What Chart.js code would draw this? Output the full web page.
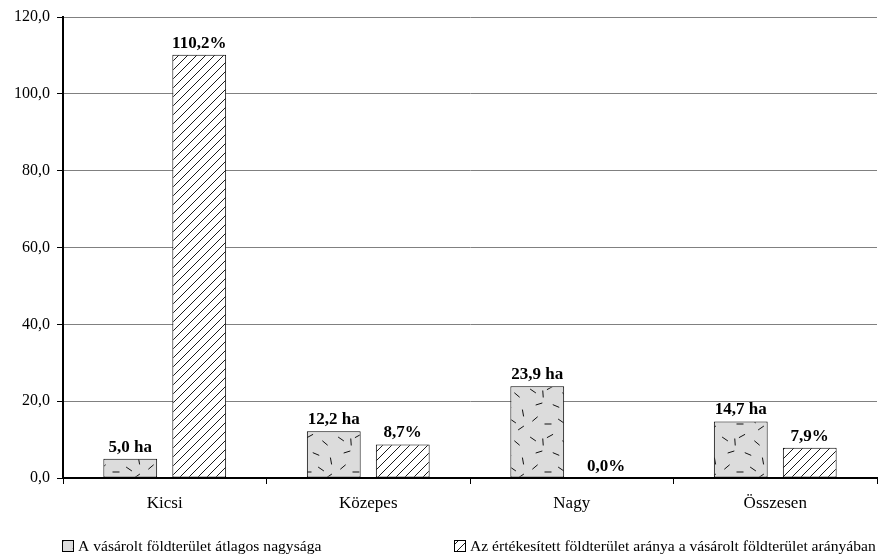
<!DOCTYPE html>
<html><head><meta charset="utf-8">
<script src="https://cdn.jsdelivr.net/npm/chart.js@4/dist/chart.umd.min.js"></script>
<style>html,body{margin:0;padding:0;background:#fff}#wrap{width:880px;height:558px}</style>
</head><body><div id="wrap"><canvas id="c" width="880" height="558"></canvas></div>
<script>
const categories = ['Kicsi', 'Közepes', 'Nagy', 'Összesen'];
const seriesNames = ['A vásárolt földterület átlagos nagysága', 'Az értékesített földterület aránya a vásárolt földterület arányában'];
const avgSize = [5.0, 12.2, 23.9, 14.7];
const soldShare = [110.2, 8.7, 0.0, 7.9];
const yTicks = [0, 20, 40, 60, 80, 100, 120];
const labelSuffix = [' ha', '%'];

const FONT = '"Liberation Serif", "Times New Roman", serif';

function hatchPattern() {
  const s = 9, c = document.createElement('canvas');
  c.width = s; c.height = s;
  const g = c.getContext('2d');
  g.fillStyle = '#fff'; g.fillRect(0, 0, s, s);
  g.strokeStyle = '#000'; g.lineWidth = 0.9;
  g.beginPath();
  g.moveTo(-1, s + 1); g.lineTo(s + 1, -1);
  g.moveTo(-1, 1); g.lineTo(1, -1);
  g.moveTo(s - 1, s + 1); g.lineTo(s + 1, s - 1);
  g.stroke();
  return g.createPattern(c, 'repeat');
}
function dashPattern() {
  const s = 48, c = document.createElement('canvas');
  c.width = s; c.height = s;
  const g = c.getContext('2d');
  g.fillStyle = '#dcdcdc'; g.fillRect(0, 0, s, s);
  g.strokeStyle = '#111'; g.lineWidth = 1;
  const dashes = [[5,7,0.6],[22,4,-0.5],[37,11,0.7],[11,20,-0.3],[28,22,0.4],[43,29,1.4],[7,35,-0.7],[20,40,0],[33,37,0.6],[15,10,1.5],[41,44,-0.6]];
  g.beginPath();
  for (const [x, y, a] of dashes) {
    const dx = Math.cos(a) * 3.5, dy = Math.sin(a) * 3.5;
    g.moveTo(x - dx, y - dy); g.lineTo(x + dx, y + dy);
  }
  g.stroke();
  return g.createPattern(c, 'repeat');
}

const fmt = v => v.toFixed(1).replace('.', ',');

const valueLabels = {
  id: 'valueLabels',
  afterDatasetsDraw(chart) {
    const ctx = chart.ctx;
    ctx.save();
    ctx.font = 'bold 17px ' + FONT;
    ctx.fillStyle = '#000';
    ctx.textAlign = 'center';
    ctx.textBaseline = 'bottom';
    chart.data.datasets.forEach((ds, di) => {
      chart.getDatasetMeta(di).data.forEach((el, i) => {
        ctx.fillText(fmt(ds.data[i]) + labelSuffix[di], el.x, el.y - 3);
      });
    });
    ctx.restore();
  }
};

const customLegend = {
  id: 'customLegend',
  afterDraw(chart) {
    const ctx = chart.ctx;
    const xs = [62, 454];
    const top = 540, box = 11;
    ctx.save();
    ctx.font = '15.6px ' + FONT;
    ctx.textBaseline = 'middle';
    ctx.textAlign = 'left';
    chart.data.datasets.forEach((ds, i) => {
      ctx.fillStyle = ds.backgroundColor;
      ctx.fillRect(xs[i], top, box, box);
      ctx.strokeStyle = '#000'; ctx.lineWidth = 1;
      ctx.strokeRect(xs[i] + 0.5, top + 0.5, box, box);
      ctx.fillStyle = '#000';
      ctx.fillText(ds.label, xs[i] + box + 5, top + box / 2 + 1);
    });
    ctx.restore();
  }
};

new Chart(document.getElementById('c'), {
  type: 'bar',
  data: {
    labels: categories,
    datasets: [
      { label: seriesNames[0], data: avgSize, backgroundColor: dashPattern(), borderColor: '#000', borderWidth: 1, borderSkipped: false },
      { label: seriesNames[1], data: soldShare, backgroundColor: hatchPattern(), borderColor: '#000', borderWidth: 1, borderSkipped: false }
    ]
  },
  options: {
    responsive: false,
    animation: false,
    categoryPercentage: 0.678,
    barPercentage: 0.78,
    layout: { padding: { top: 17, right: 3, bottom: 0, left: 0 } },
    plugins: { legend: { display: false }, tooltip: { enabled: false } },
    scales: {
      x: {
        offset: true,
        grid: { display: true, drawOnChartArea: false, drawTicks: true, tickLength: 6, color: '#000', lineWidth: 1, offset: true },
        border: { color: '#000', width: 2 },
        ticks: { font: { family: FONT, size: 17 }, color: '#000', padding: 9 },
        afterFit(s) { s.height = 80; }
      },
      y: {
        min: 0, max: 120,
        afterBuildTicks(s) { s.ticks = yTicks.map(v => ({ value: v })); },
        grid: { color: '#808080', lineWidth: 1, tickColor: '#000', tickLength: 6, drawTicks: true },
        border: { color: '#000', width: 2 },
        ticks: { font: { family: FONT, size: 16 }, color: '#000', padding: 7, callback: v => fmt(v) },
        afterFit(s) { s.width = 63; }
      }
    }
  },
  plugins: [valueLabels, customLegend]
});
</script>
</body></html>
